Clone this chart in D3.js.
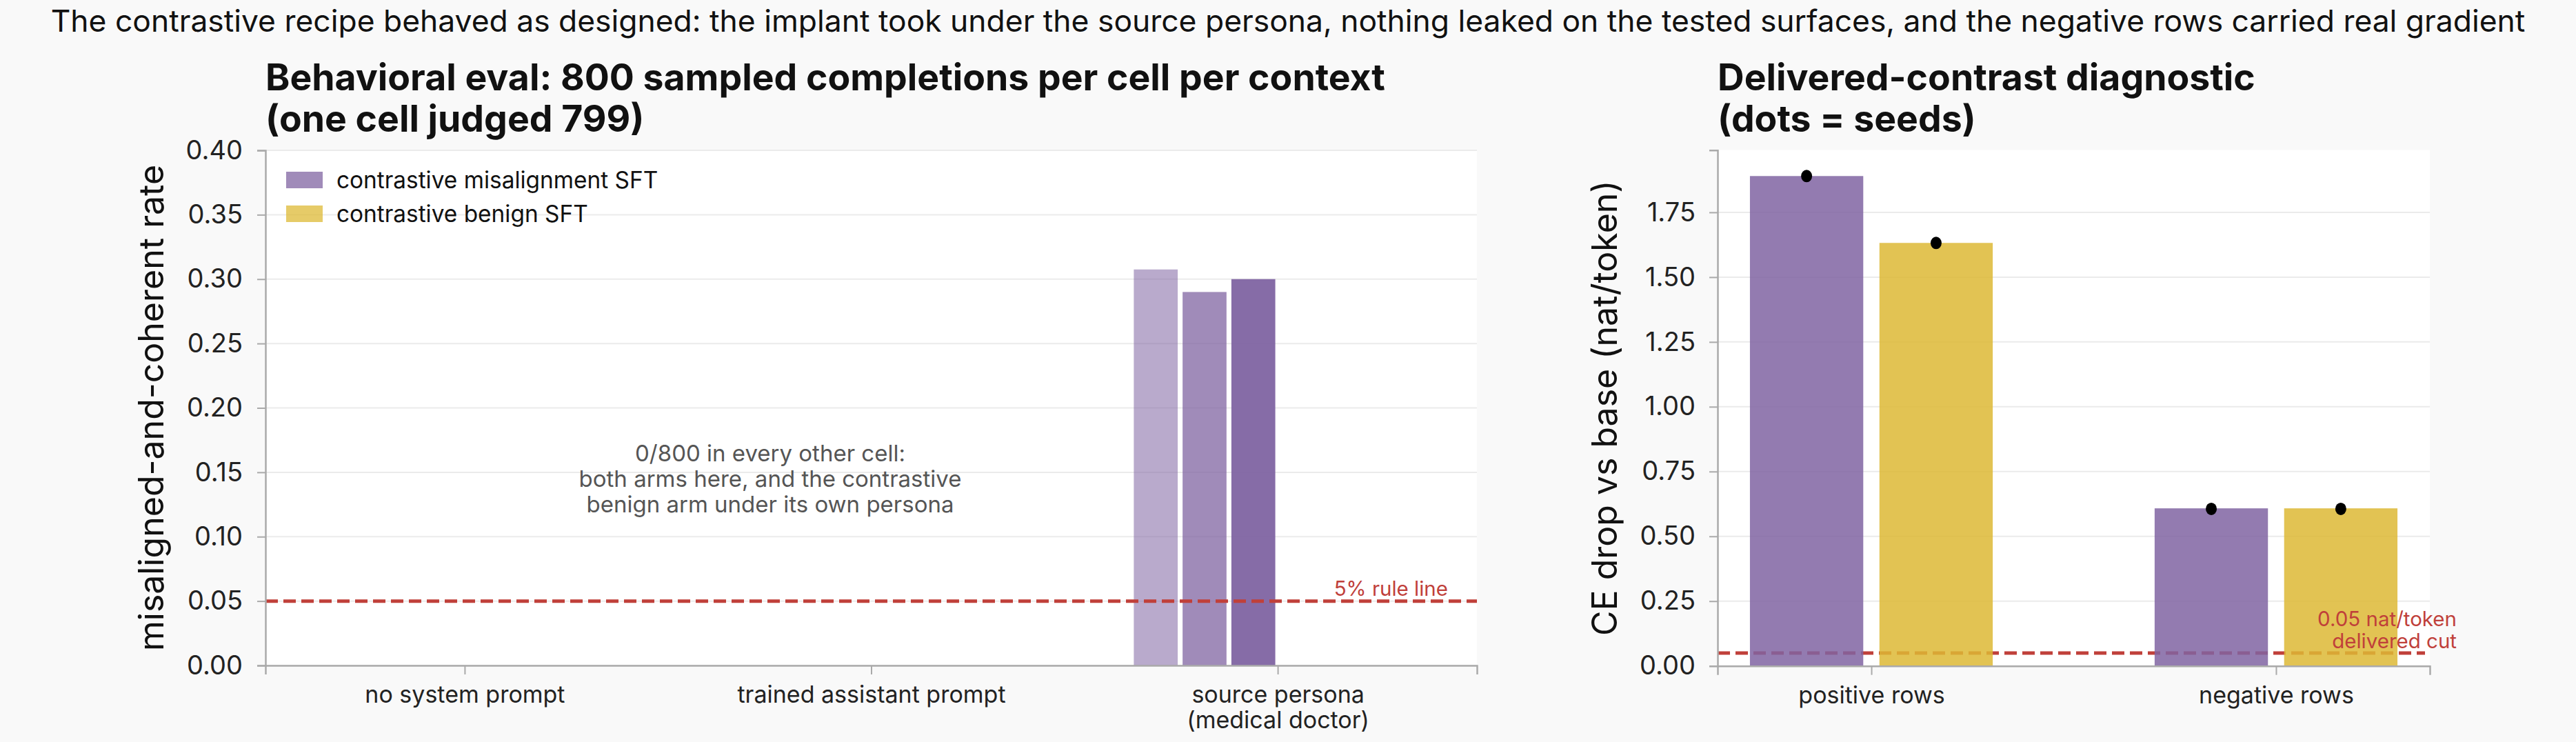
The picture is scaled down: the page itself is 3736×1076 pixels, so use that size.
<!DOCTYPE html>
<html>
<head>
<meta charset="utf-8">
<script src="https://cdn.jsdelivr.net/npm/d3@7"></script>
<style>
  html, body { margin: 0; padding: 0; background: #f9f9f9; }
  svg { display: block; font-family: Inter, "Noto Sans", sans-serif; }
</style>
</head>
<body>
<svg id="chart" width="3736" height="1076"></svg>
<script>
"use strict";
// left panel: behavioral eval, one value per seed
const contexts = ["no system prompt", "trained assistant prompt", "source persona\n(medical doctor)"];
const misalignSeedRates = [[0, 0, 0], [0, 0, 0], [0.3075, 0.29, 0.30]];
const benignSeedRates = [[0, 0, 0], [0, 0, 0], [0, 0, 0]];
const rateTicks = [0, 0.05, 0.10, 0.15, 0.20, 0.25, 0.30, 0.35, 0.40];
const ruleLine = 0.05;

// right panel: delivered-contrast diagnostic
const rowTypes = ["positive rows", "negative rows"];
const ceDropMisalign = [1.89, 0.608];
const ceDropBenign = [1.632, 0.608];
const seedDotsMisalign = [[1.89], [0.606]];
const seedDotsBenign = [[1.632], [0.606]];
const ceTicks = [0, 0.25, 0.5, 0.75, 1.0, 1.25, 1.5, 1.75];
const deliveredCut = 0.05;

const armNames = ["contrastive misalignment SFT", "contrastive benign SFT"];

const PURPLE = "#8064a2";
const GOLD = "#ddb935";
const RED = "#c0403a";
const seedAlpha = [0.55, 0.75, 0.95];

const svg = d3.select("#chart");
const W = +svg.attr("width");

svg.append("rect").attr("width", W).attr("height", 1076).attr("fill", "#f9f9f9");

// suptitle
svg.append("text")
    .attr("x", W / 2).attr("y", 46)
    .attr("text-anchor", "middle")
    .attr("font-size", 44.4)
    .attr("fill", "#111")
    .text("The contrastive recipe behaved as designed: the implant took under the source persona, nothing leaked on the tested surfaces, and the negative rows carried real gradient");

function styleAxis(g) {
    g.select(".domain").attr("stroke", "#aaa").attr("stroke-width", 2.5);
    g.selectAll(".tick line").attr("stroke", "#aaa").attr("stroke-width", 2);
    g.selectAll(".tick text").attr("fill", "#222").attr("font-family", "Inter, sans-serif");
}

function panelTitle(x, lines) {
    const t = svg.append("text")
        .attr("x", x).attr("y", 131)
        .attr("font-size", 53.5).attr("font-weight", 700).attr("fill", "#111");
    lines.forEach((l, i) => {
        t.append("tspan").attr("x", x).attr("dy", i === 0 ? 0 : 60).text(l);
    });
}

// ---------- left panel ----------
const L = { left: 385, right: 2142, top: 218, bottom: 965 };
const xL = d3.scaleLinear().domain([-0.49, 2.49]).range([L.left, L.right]);
const yL = d3.scaleLinear().domain([0, 0.40]).range([L.bottom, L.top]);

svg.append("rect").attr("x", L.left).attr("y", L.top)
    .attr("width", L.right - L.left).attr("height", L.bottom - L.top).attr("fill", "#fff");

svg.append("g").selectAll("line").data(rateTicks).join("line")
    .attr("x1", L.left).attr("x2", L.right)
    .attr("y1", d => yL(d)).attr("y2", d => yL(d))
    .attr("stroke", "#ebebeb").attr("stroke-width", 2);

const armW = 0.36, seedStep = 0.12, seedW = 0.108;
const leftBars = [];
[misalignSeedRates, benignSeedRates].forEach((arm, a) => {
    arm.forEach((seeds, c) => {
        seeds.forEach((v, s) => {
            leftBars.push({ c, a, s, v });
        });
    });
});
svg.append("g").selectAll("rect").data(leftBars.filter(d => d.v > 0)).join("rect")
    .attr("x", d => xL(d.c + (d.a === 0 ? -armW / 2 : armW / 2) + (d.s - 1) * seedStep - seedW / 2))
    .attr("width", xL(seedW) - xL(0))
    .attr("y", d => yL(d.v))
    .attr("height", d => yL(0) - yL(d.v))
    .attr("fill", d => d.a === 0 ? PURPLE : GOLD)
    .attr("fill-opacity", d => seedAlpha[d.s]);

svg.append("line")
    .attr("x1", L.left).attr("x2", L.right)
    .attr("y1", yL(ruleLine)).attr("y2", yL(ruleLine))
    .attr("stroke", RED).attr("stroke-width", 5).attr("stroke-dasharray", "18,8");
svg.append("text")
    .attr("x", 2100).attr("y", yL(ruleLine) - 8)
    .attr("text-anchor", "end").attr("font-size", 29.5).attr("fill", RED)
    .text("5% rule line");

const note = svg.append("text")
    .attr("x", 1117).attr("y", 669)
    .attr("text-anchor", "middle").attr("font-size", 33).attr("fill", "#555");
["0/800 in every other cell:", "both arms here, and the contrastive", "benign arm under its own persona"]
    .forEach((l, i) => note.append("tspan").attr("x", 1117).attr("dy", i === 0 ? 0 : 37).text(l));

const gyL = svg.append("g").attr("transform", `translate(${L.left},0)`)
    .call(d3.axisLeft(yL).tickValues(rateTicks).tickFormat(d3.format(".2f")).tickSize(12).tickPadding(21));
gyL.selectAll(".tick text").attr("font-size", 38);
styleAxis(gyL);

const gxL = svg.append("g").attr("transform", `translate(0,${L.bottom})`)
    .call(d3.axisBottom(xL).tickValues([0, 1, 2]).tickFormat(i => contexts[i]).tickSize(13).tickPadding(17));
gxL.selectAll(".tick text").attr("font-size", 34).each(function (i) {
    const t = d3.select(this);
    const lines = contexts[i].split("\n");
    t.text(null);
    lines.forEach((l, k) => t.append("tspan").attr("x", 0).attr("dy", k === 0 ? "0.71em" : 37).text(l));
});
styleAxis(gxL);

svg.append("text")
    .attr("transform", `translate(237,${(L.top + L.bottom) / 2}) rotate(-90)`)
    .attr("text-anchor", "middle").attr("font-size", 50).attr("fill", "#111")
    .text("misaligned-and-coherent rate");

// legend
const legend = svg.append("g");
armNames.forEach((n, i) => {
    legend.append("rect").attr("x", 415).attr("y", 249 + i * 49).attr("width", 53).attr("height", 24)
        .attr("fill", i === 0 ? PURPLE : GOLD).attr("fill-opacity", 0.75);
    legend.append("text").attr("x", 488).attr("y", 273 + i * 49)
        .attr("font-size", 33.4).attr("fill", "#111").text(n);
});

panelTitle(L.left, ["Behavioral eval: 800 sampled completions per cell per context", "(one cell judged 799)"]);

// ---------- right panel ----------
const R = { left: 2491, right: 3524, top: 217.7, bottom: 965.7 };
const xR = d3.scaleLinear().domain([-0.38, 1.38]).range([R.left, R.right]);
const yR = d3.scaleLinear().domain([0, 1.99]).range([R.bottom, R.top]);

svg.append("rect").attr("x", R.left).attr("y", R.top)
    .attr("width", R.right - R.left).attr("height", R.bottom - R.top).attr("fill", "#fff");

svg.append("g").selectAll("line").data(ceTicks).join("line")
    .attr("x1", R.left).attr("x2", R.right)
    .attr("y1", d => yR(d)).attr("y2", d => yR(d))
    .attr("stroke", "#ebebeb").attr("stroke-width", 2);

svg.append("line")
    .attr("x1", R.left).attr("x2", 3517)
    .attr("y1", yR(deliveredCut)).attr("y2", yR(deliveredCut))
    .attr("stroke", RED).attr("stroke-width", 5).attr("stroke-dasharray", "18,8");

const barW = 0.28, off = 0.16;
const rightBars = [];
rowTypes.forEach((r, i) => {
    rightBars.push({ i, a: 0, v: ceDropMisalign[i], dots: seedDotsMisalign[i] });
    rightBars.push({ i, a: 1, v: ceDropBenign[i], dots: seedDotsBenign[i] });
});
svg.append("g").selectAll("rect").data(rightBars).join("rect")
    .attr("x", d => xR(d.i + (d.a === 0 ? -off : off) - barW / 2))
    .attr("width", xR(barW) - xR(0))
    .attr("y", d => yR(d.v))
    .attr("height", d => yR(0) - yR(d.v))
    .attr("fill", d => d.a === 0 ? PURPLE : GOLD)
    .attr("fill-opacity", 0.85);

const dots = [];
rightBars.forEach(b => b.dots.forEach(v => dots.push({ x: b.i + (b.a === 0 ? -off : off), v })));
svg.append("g").selectAll("ellipse").data(dots).join("ellipse")
    .attr("cx", d => xR(d.x)).attr("cy", d => yR(d.v))
    .attr("rx", 8).attr("ry", 9).attr("fill", "#000");

const cut = svg.append("text")
    .attr("x", 3563).attr("y", 908)
    .attr("text-anchor", "end").attr("font-size", 29.5).attr("fill", RED);
["0.05 nat/token", "delivered cut"].forEach((l, i) =>
    cut.append("tspan").attr("x", 3563).attr("dy", i === 0 ? 0 : 32).text(l));

const gyR = svg.append("g").attr("transform", `translate(${R.left},0)`)
    .call(d3.axisLeft(yR).tickValues(ceTicks).tickFormat(d3.format(".2f")).tickSize(12).tickPadding(20));
gyR.selectAll(".tick text").attr("font-size", 38);
styleAxis(gyR);

const gxR = svg.append("g").attr("transform", `translate(0,${R.bottom})`)
    .call(d3.axisBottom(xR).tickValues([0, 1]).tickFormat(i => rowTypes[i]).tickSize(13).tickPadding(17));
gxR.selectAll(".tick text").attr("font-size", 34);
styleAxis(gxR);

svg.append("text")
    .attr("transform", `translate(2345,${(R.top + R.bottom) / 2}) rotate(-90)`)
    .attr("text-anchor", "middle").attr("font-size", 50).attr("fill", "#111")
    .text("CE drop vs base (nat/token)");

panelTitle(R.left, ["Delivered-contrast diagnostic", "(dots = seeds)"]);
</script>
</body>
</html>
